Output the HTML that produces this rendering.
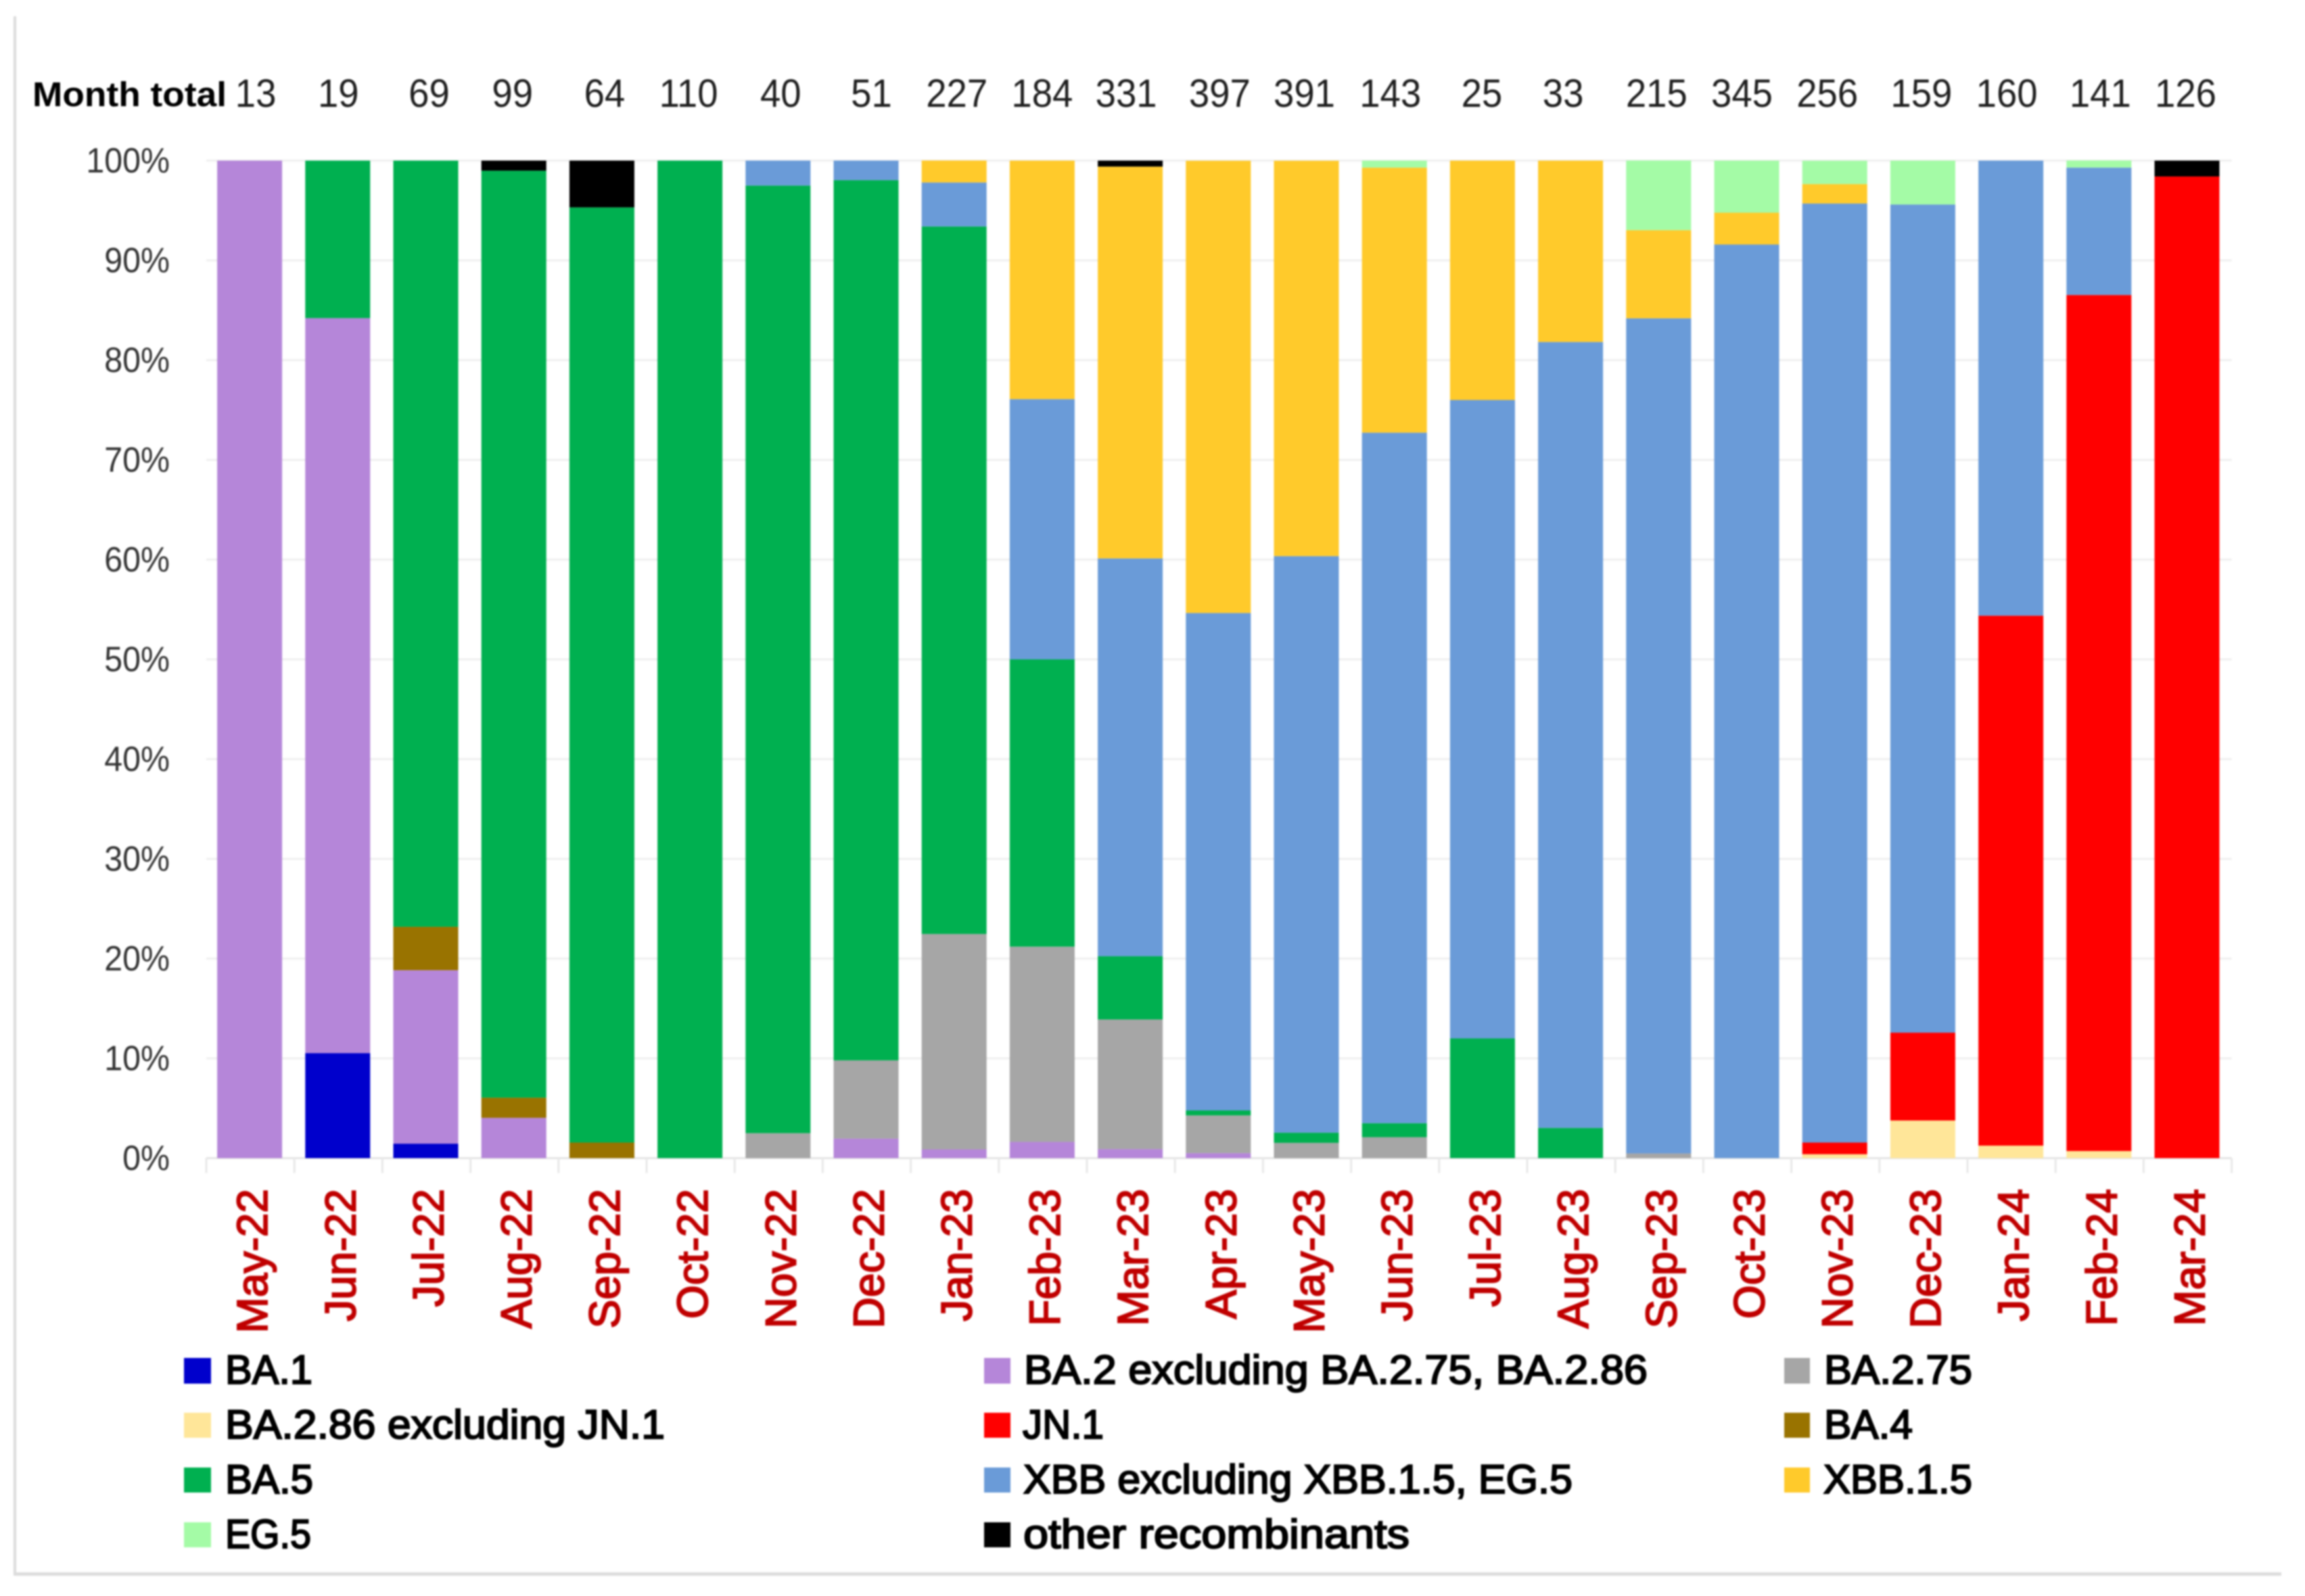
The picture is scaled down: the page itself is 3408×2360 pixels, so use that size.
<!DOCTYPE html>
<html lang="en">
<head>
<meta charset="utf-8">
<title>Monthly variant share chart</title>
<style>
html,body{margin:0;padding:0;background:#fff;width:3408px;height:2360px;overflow:hidden}
svg{display:block;filter:blur(1.4px)}
text{font-family:"Liberation Sans",sans-serif}
.legend-text{font-size:60px;fill:#000;stroke:#000;stroke-width:2.2px}
</style>
</head>
<body>
<svg id="chart" xmlns="http://www.w3.org/2000/svg" width="3408" height="2360" viewBox="0 0 3408 2360">
  <rect x="0" y="0" width="3408" height="2360" fill="#fff"/>
  <rect x="20" y="24" width="4" height="2306" fill="#dcdcdc"/>
  <rect x="20" y="2325" width="3353" height="5" fill="#dcdcdc"/>
  <g id="grid"></g>
  <g id="bars"></g>
  <g id="axes"></g>
  <text x="48" y="157" font-size="51" font-weight="700" fill="#000" textLength="287" lengthAdjust="spacingAndGlyphs">Month total</text>

  <g>
    <g><rect x="272" y="2008" width="40" height="38" fill="#0000CC"/><text class="legend-text" x="333" y="2046" textLength="129" lengthAdjust="spacingAndGlyphs">BA.1</text></g>
    <g><rect x="272" y="2089" width="40" height="37" fill="#FFE699"/><text class="legend-text" x="333" y="2127" textLength="650" lengthAdjust="spacingAndGlyphs">BA.2.86 excluding JN.1</text></g>
    <g><rect x="272" y="2170" width="40" height="37" fill="#00B050"/><text class="legend-text" x="333" y="2208" textLength="130" lengthAdjust="spacingAndGlyphs">BA.5</text></g>
    <g><rect x="272" y="2251" width="40" height="37" fill="#A4FBA6"/><text class="legend-text" x="333" y="2289" textLength="127" lengthAdjust="spacingAndGlyphs">EG.5</text></g>

    <g><rect x="1455" y="2008" width="39" height="38" fill="#B586D9"/><text class="legend-text" x="1514" y="2046" textLength="922" lengthAdjust="spacingAndGlyphs">BA.2 excluding BA.2.75, BA.2.86</text></g>
    <g><rect x="1455" y="2089" width="39" height="37" fill="#FF0000"/><text class="legend-text" x="1512" y="2127" textLength="120" lengthAdjust="spacingAndGlyphs">JN.1</text></g>
    <g><rect x="1455" y="2170" width="39" height="37" fill="#6A9BD8"/><text class="legend-text" x="1513" y="2208" textLength="812" lengthAdjust="spacingAndGlyphs">XBB excluding XBB.1.5, EG.5</text></g>
    <g><rect x="1455" y="2251" width="39" height="37" fill="#000000"/><text class="legend-text" x="1513" y="2289" textLength="571" lengthAdjust="spacingAndGlyphs">other recombinants</text></g>

    <g><rect x="2638" y="2008" width="38" height="38" fill="#A6A6A6"/><text class="legend-text" x="2697" y="2046" textLength="219" lengthAdjust="spacingAndGlyphs">BA.2.75</text></g>
    <g><rect x="2638" y="2089" width="38" height="37" fill="#997300"/><text class="legend-text" x="2697" y="2127" textLength="131" lengthAdjust="spacingAndGlyphs">BA.4</text></g>
    <g><rect x="2638" y="2170" width="38" height="37" fill="#FFCA2B"/><text class="legend-text" x="2696" y="2208" textLength="220" lengthAdjust="spacingAndGlyphs">XBB.1.5</text></g>
  </g>
</svg>
<script>
const months = ["May-22","Jun-22","Jul-22","Aug-22","Sep-22","Oct-22","Nov-22","Dec-22","Jan-23","Feb-23","Mar-23","Apr-23","May-23","Jun-23","Jul-23","Aug-23","Sep-23","Oct-23","Nov-23","Dec-23","Jan-24","Feb-24","Mar-24"];
const monthTotals = [13,19,69,99,64,110,40,51,227,184,331,397,391,143,25,33,215,345,256,159,160,141,126];
const yTicks = [0,10,20,30,40,50,60,70,80,90,100];

const ba1     = [0,10.53,1.45,0,0,0,0,0,0,0,0,0,0,0,0,0,0,0,0,0,0,0,0];
const ba2     = [100,73.68,17.39,4.04,0,0,0,1.96,0.88,1.63,0.91,0.5,0,0,0,0,0,0,0,0,0,0,0];
const ba275   = [0,0,0,0,0,0,2.5,7.84,21.59,19.57,12.99,3.78,1.53,2.1,0,0,0.47,0,0,0,0,0,0];
const ba286   = [0,0,0,0,0,0,0,0,0,0,0,0,0,0,0,0,0,0,0.39,3.77,1.25,0.71,0];
const jn1     = [0,0,0,0,0,0,0,0,0,0,0,0,0,0,0,0,0,0,1.17,8.81,53.13,85.82,98.41];
const ba4     = [0,0,4.35,2.02,1.56,0,0,0,0,0,0,0,0,0,0,0,0,0,0,0,0,0,0];
const ba5     = [0,15.79,76.81,92.93,93.75,100,95,88.24,70.93,28.8,6.34,0.5,1.02,1.4,12,3.03,0,0,0,0,0,0,0];
const xbb     = [0,0,0,0,0,0,2.5,1.96,4.41,26.09,39.88,49.87,57.8,69.23,64,78.79,83.72,91.59,94.14,83.02,45.62,12.77,0];
const xbb15   = [0,0,0,0,0,0,0,0,2.2,23.91,39.28,45.34,39.64,26.57,24,18.18,8.84,3.19,1.95,0,0,0,0];
const eg5     = [0,0,0,0,0,0,0,0,0,0,0,0,0,0.7,0,0,6.98,5.22,2.34,4.4,0,0.71,0];
const other   = [0,0,0,1.01,4.69,0,0,0,0,0,0.6,0,0,0,0,0,0,0,0,0,0,0,1.59];

const seriesNames = ["ba1","ba2","ba275","ba286","jn1","ba4","ba5","xbb","xbb15","eg5","other"];
const seriesValues = [ba1,ba2,ba275,ba286,jn1,ba4,ba5,xbb,xbb15,eg5,other];
const seriesColors = ["#0000CC","#B586D9","#A6A6A6","#FFE699","#FF0000","#997300","#00B050","#6A9BD8","#FFCA2B","#A4FBA6","#000000"];

const SVGNS = "http://www.w3.org/2000/svg";
const plot = {left:305, top:237.5, bottom:1712.5, step:130.2, barWidth:96};
function yScale(v){ return plot.bottom - (v/100)*(plot.bottom-plot.top); }
function bandLeft(i){ return plot.left + i*plot.step; }
function bandCenter(i){ return bandLeft(i) + plot.step/2 - 1; }
const plotRight = bandLeft(months.length);
// hand-set layout offsets: the month-total row is not aligned exactly with the bars in the original
const totalLabelNudge = [9,1,5,-2,4,-2,4,8,4,0,-6,2,-3,-6,-1,-11,-3,-7,-11,-2,-6,2,-2];

const grid = document.getElementById("grid");
const bars = document.getElementById("bars");
const axes = document.getElementById("axes");
const root = document.getElementById("chart");

yTicks.forEach(function(t){
  const line = document.createElementNS(SVGNS,"rect");
  
  
  line.setAttribute("x", plot.left);
  line.setAttribute("y", yScale(t)-1.5);
  line.setAttribute("width", plotRight-plot.left);
  line.setAttribute("height", 3);
  line.setAttribute("fill", t===0 ? "#e4e4e4" : "#efefef");
  grid.appendChild(line);

  const label = document.createElementNS(SVGNS,"text");
  
  
  label.setAttribute("transform", "translate(251,"+(yScale(t)+17.5)+") scale(0.93,1)");
  label.setAttribute("text-anchor", "end");
  label.setAttribute("font-size", "52");
  label.setAttribute("fill", "#333333");
  label.textContent = t+"%";
  axes.appendChild(label);
});

months.forEach(function(m,i){
  let base = 0;
  seriesValues.forEach(function(values,s){
    const v = values[i];
    if(v>0){
      const seg = document.createElementNS(SVGNS,"rect");
      
      
      seg.setAttribute("x", bandCenter(i)-plot.barWidth/2);
      seg.setAttribute("y", yScale(base+v));
      seg.setAttribute("width", plot.barWidth);
      seg.setAttribute("height", yScale(base)-yScale(base+v));
      seg.setAttribute("fill", seriesColors[s]);
      bars.appendChild(seg);
    }
    base += v;
  });

  const xl = document.createElementNS(SVGNS,"text");
  
  
  xl.setAttribute("transform", "translate("+(bandCenter(i)+26)+",1758) rotate(-90)");
  xl.setAttribute("text-anchor", "end");
  xl.setAttribute("font-size", "64");
  xl.setAttribute("fill", "#C00000");
  xl.setAttribute("stroke", "#C00000");
  xl.setAttribute("stroke-width", "2");
  xl.textContent = m;
  axes.appendChild(xl);

  const tot = document.createElementNS(SVGNS,"text");
  
  
  tot.setAttribute("transform", "translate("+(bandCenter(i)+totalLabelNudge[i])+",158) scale(0.94,1)");
  tot.setAttribute("text-anchor", "middle");
  tot.setAttribute("font-size", "58");
  tot.setAttribute("fill", "#1f1f1f");
  tot.textContent = monthTotals[i];
  root.appendChild(tot);
});

for(let i=0;i<=months.length;i++){
  const tick = document.createElementNS(SVGNS,"rect");
  
  
  tick.setAttribute("x", bandLeft(i)-1.5);
  tick.setAttribute("y", plot.bottom);
  tick.setAttribute("width", 3);
  tick.setAttribute("height", 22);
  tick.setAttribute("fill", "#e8e8e8");
  axes.appendChild(tick);
}
</script>
</body>
</html>
